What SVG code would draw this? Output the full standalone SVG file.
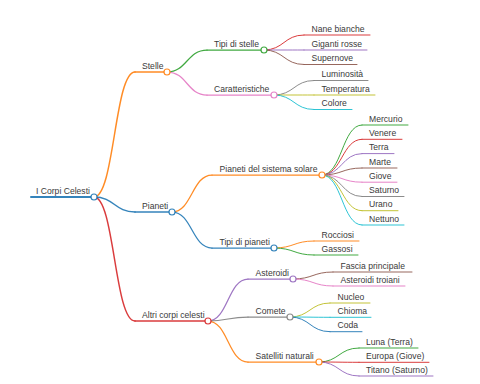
<svg xmlns="http://www.w3.org/2000/svg" width="480" height="384" viewBox="0 0 480 384">
<style>
text{font-family:"Liberation Sans",Arial,sans-serif;font-size:8.6px;fill:#3a3a3a}
path,line,circle{fill:none;stroke-linecap:round;stroke-opacity:0.9}
circle{fill:#fff;stroke-width:1.2}
.d0{stroke-width:2}
.d1{stroke-width:1.5}
.d2{stroke-width:1.25}
.d3{stroke-width:1}
.c0{stroke:#1f77b4}.c1{stroke:#ff7f0e}.c2{stroke:#2ca02c}.c3{stroke:#d62728}.c4{stroke:#9467bd}
.c5{stroke:#8c564b}.c6{stroke:#e377c2}.c7{stroke:#7f7f7f}.c8{stroke:#bcbd22}.c9{stroke:#17becf}
</style>
<rect width="480" height="384" fill="#fff"/>
<g id="connectors">
<path class="d1 c1" d="M94,197 C114.5,197 114.5,72 135,72"/>
<path class="d1 c0" d="M94,197 C114.5,197 114.5,212 135,212"/>
<path class="d1 c3" d="M94,197 C114.5,197 114.5,321 135,321"/>
<path class="d2 c2" d="M167,72 C187,72 187,50 207,50"/>
<path class="d2 c6" d="M167,72 C187,72 187,95 207,95"/>
<path class="d2 c1" d="M172,212 C192,212 192,175 212,175"/>
<path class="d2 c0" d="M172,212 C192,212 192,248 212,248"/>
<path class="d2 c4" d="M208,321 C228,321 228,279 248,279"/>
<path class="d2 c7" d="M208,321 C228,321 228,317 248,317"/>
<path class="d2 c1" d="M208,321 C228,321 228,362 248,362"/>
<path class="d3 c3" d="M264,50 C284,50 284,35 304,35"/>
<path class="d3 c4" d="M264,50 C284,50 284,50 304,50"/>
<path class="d3 c5" d="M264,50 C284,50 284,64.5 304,64.5"/>
<path class="d3 c7" d="M274,95 C294,95 294,80.5 314,80.5"/>
<path class="d3 c8" d="M274,95 C294,95 294,95 314,95"/>
<path class="d3 c9" d="M274,95 C294,95 294,109.5 314,109.5"/>
<path class="d3 c2" d="M322,175 C342,175 342,125 362,125"/>
<path class="d3 c3" d="M322,175 C342,175 342,139.3 362,139.3"/>
<path class="d3 c4" d="M322,175 C342,175 342,153.6 362,153.6"/>
<path class="d3 c5" d="M322,175 C342,175 342,168 362,168"/>
<path class="d3 c6" d="M322,175 C342,175 342,182.2 362,182.2"/>
<path class="d3 c7" d="M322,175 C342,175 342,196.5 362,196.5"/>
<path class="d3 c8" d="M322,175 C342,175 342,210.7 362,210.7"/>
<path class="d3 c9" d="M322,175 C342,175 342,225 362,225"/>
<path class="d3 c1" d="M274,248 C294,248 294,241 314,241"/>
<path class="d3 c2" d="M274,248 C294,248 294,255 314,255"/>
<path class="d3 c5" d="M293,279 C313,279 313,272 333,272"/>
<path class="d3 c6" d="M293,279 C313,279 313,286 333,286"/>
<path class="d3 c8" d="M290,317 C310,317 310,303 330,303"/>
<path class="d3 c9" d="M290,317 C310,317 310,317.3 330,317.3"/>
<path class="d3 c0" d="M290,317 C310,317 310,331.7 330,331.7"/>
<path class="d3 c2" d="M319,362 C339,362 339,348 359,348"/>
<path class="d3 c3" d="M319,362 C339,362 339,362.3 359,362.3"/>
<path class="d3 c4" d="M319,362 C339,362 339,376 359,376"/>
</g>
<g id="n-root"><line class="d0 c0" x1="31" y1="197" x2="94" y2="197"/><circle class="c0" cx="94" cy="197" r="3"/><text x="36" y="193.5">I Corpi Celesti</text></g>
<g id="n-stelle"><line class="d1 c1" x1="135" y1="72" x2="167" y2="72"/><circle class="c1" cx="167" cy="72" r="3"/><text x="142" y="68.5">Stelle</text></g>
<g id="n-pianeti"><line class="d1 c0" x1="135" y1="212" x2="172" y2="212"/><circle class="c0" cx="172" cy="212" r="3"/><text x="142" y="208.5">Pianeti</text></g>
<g id="n-altri"><line class="d1 c3" x1="135" y1="321" x2="208" y2="321"/><circle class="c3" cx="208" cy="321" r="3"/><text x="142" y="317.5">Altri corpi celesti</text></g>
<g id="n-tipistelle"><line class="d2 c2" x1="207" y1="50" x2="264" y2="50"/><circle class="c2" cx="264" cy="50" r="3"/><text x="214" y="46.5">Tipi di stelle</text></g>
<g id="n-caratt"><line class="d2 c6" x1="207" y1="95" x2="274" y2="95"/><circle class="c6" cx="274" cy="95" r="3"/><text x="214" y="91.5">Caratteristiche</text></g>
<g id="n-pdss"><line class="d2 c1" x1="212" y1="175" x2="322" y2="175"/><circle class="c1" cx="322" cy="175" r="3"/><text x="219.5" y="171.5">Pianeti del sistema solare</text></g>
<g id="n-tipipianeti"><line class="d2 c0" x1="212" y1="248" x2="274" y2="248"/><circle class="c0" cx="274" cy="248" r="3"/><text x="219.5" y="244.5">Tipi di pianeti</text></g>
<g id="n-asteroidi"><line class="d2 c4" x1="248" y1="279" x2="293" y2="279"/><circle class="c4" cx="293" cy="279" r="3"/><text x="255.5" y="275.5">Asteroidi</text></g>
<g id="n-comete"><line class="d2 c7" x1="248" y1="317" x2="290" y2="317"/><circle class="c7" cx="290" cy="317" r="3"/><text x="255.5" y="313.5">Comete</text></g>
<g id="n-satelliti"><line class="d2 c1" x1="248" y1="362" x2="319" y2="362"/><circle class="c1" cx="319" cy="362" r="3"/><text x="255.5" y="358.5">Satelliti naturali</text></g>
<g id="n-nane"><line class="d3 c3" x1="304" y1="35" x2="370" y2="35"/><text x="311.5" y="31.5">Nane bianche</text></g>
<g id="n-giganti"><line class="d3 c4" x1="304" y1="50" x2="367" y2="50"/><text x="311.5" y="46.5">Giganti rosse</text></g>
<g id="n-supernove"><line class="d3 c5" x1="304" y1="64.5" x2="357" y2="64.5"/><text x="311.5" y="61">Supernove</text></g>
<g id="n-lum"><line class="d3 c7" x1="314" y1="80.5" x2="368" y2="80.5"/><text x="321.5" y="77">Luminosità</text></g>
<g id="n-temp"><line class="d3 c8" x1="314" y1="95" x2="375" y2="95"/><text x="321.5" y="91.5">Temperatura</text></g>
<g id="n-colore"><line class="d3 c9" x1="314" y1="109.5" x2="352" y2="109.5"/><text x="321.5" y="106">Colore</text></g>
<g id="n-mercurio"><line class="d3 c2" x1="362" y1="125" x2="408" y2="125"/><text x="369" y="121.5">Mercurio</text></g>
<g id="n-venere"><line class="d3 c3" x1="362" y1="139.3" x2="402" y2="139.3"/><text x="369" y="135.8">Venere</text></g>
<g id="n-terra"><line class="d3 c4" x1="362" y1="153.6" x2="394" y2="153.6"/><text x="369" y="150.1">Terra</text></g>
<g id="n-marte"><line class="d3 c5" x1="362" y1="168" x2="397" y2="168"/><text x="369" y="164.5">Marte</text></g>
<g id="n-giove"><line class="d3 c6" x1="362" y1="182.2" x2="397" y2="182.2"/><text x="369" y="178.7">Giove</text></g>
<g id="n-saturno"><line class="d3 c7" x1="362" y1="196.5" x2="404" y2="196.5"/><text x="369" y="193">Saturno</text></g>
<g id="n-urano"><line class="d3 c8" x1="362" y1="210.7" x2="398" y2="210.7"/><text x="369" y="207.2">Urano</text></g>
<g id="n-nettuno"><line class="d3 c9" x1="362" y1="225" x2="404" y2="225"/><text x="369" y="221.5">Nettuno</text></g>
<g id="n-rocciosi"><line class="d3 c1" x1="314" y1="241" x2="359" y2="241"/><text x="321.5" y="237.5">Rocciosi</text></g>
<g id="n-gassosi"><line class="d3 c2" x1="314" y1="255" x2="358" y2="255"/><text x="321.5" y="251.5">Gassosi</text></g>
<g id="n-fascia"><line class="d3 c5" x1="333" y1="272" x2="412" y2="272"/><text x="340.5" y="268.5">Fascia principale</text></g>
<g id="n-troiani"><line class="d3 c6" x1="333" y1="286" x2="405" y2="286"/><text x="340.5" y="282.5">Asteroidi troiani</text></g>
<g id="n-nucleo"><line class="d3 c8" x1="330" y1="303" x2="370" y2="303"/><text x="337.5" y="299.5">Nucleo</text></g>
<g id="n-chioma"><line class="d3 c9" x1="330" y1="317.3" x2="371" y2="317.3"/><text x="337.5" y="313.8">Chioma</text></g>
<g id="n-coda"><line class="d3 c0" x1="330" y1="331.7" x2="362" y2="331.7"/><text x="337.5" y="328.2">Coda</text></g>
<g id="n-luna"><line class="d3 c2" x1="359" y1="348" x2="418" y2="348"/><text x="366" y="344.5">Luna (Terra)</text></g>
<g id="n-europa"><line class="d3 c3" x1="359" y1="362.3" x2="429" y2="362.3"/><text x="366" y="358.8">Europa (Giove)</text></g>
<g id="n-titano"><line class="d3 c4" x1="359" y1="376" x2="433" y2="376"/><text x="366" y="372.5">Titano (Saturno)</text></g>
</svg>
